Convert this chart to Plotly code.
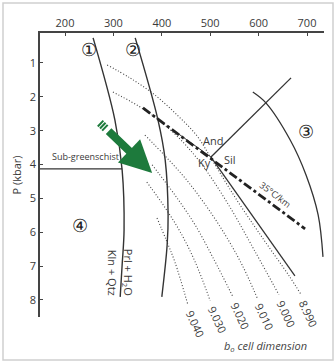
import math
import plotly.graph_objects as go

# ---------------- data ----------------
T_RANGE = [148.3, 735.1]          # temperature axis (°C), top
P_RANGE = [8.505, 0.115]          # pressure axis (kbar), reversed

x_ticks = [200, 300, 400, 500, 600, 700]
y_ticks = [1, 2, 3, 4, 5, 6, 7, 8]

# reaction curve 1 : Kln + Qtz = Prl + H2O
rxn1_T = [258, 303, 318, 322, 318, 314]
rxn1_P = [0.26, 2.68, 4.16, 5.93, 6.97, 7.91]
# reaction curve 2
rxn2_T = [345, 392, 407, 413, 411, 400]
rxn2_P = [0.26, 2.68, 3.87, 5.49, 6.38, 7.91]
# curve 3
rxn3_T = [588, 615, 665, 698, 723, 733]
rxn3_P = [1.86, 2.18, 3.27, 4.31, 5.49, 6.73]

# Al2SiO5 triple point and boundaries
triple_T, triple_P = 501.6, 3.78
and_sil_T = [667, triple_T]
and_sil_P = [1.44, triple_P]
ky_sil_T = [triple_T, 675]
ky_sil_P = [triple_P, 7.29]
ky_and_T = [430, triple_T]
ky_and_P = [3.05, triple_P]

# 35 °C/km geotherm
geo_T = [361, 696]
geo_P = [2.33, 5.90]

# sub-greenschist boundary
sub_T = [148.3, 318]
sub_P = [4.13, 4.13]

# b0 cell dimension isopleths
iso_labels = ["8.990", "9.000", "9.010", "9.020", "9.030", "9.040"]
iso_T = [
    [287, 334, 386, 434, 473, 504, 555, 611, 663, 688],
    [299, 365, 427, 479, 537, 593, 642],
    [365, 407, 448, 489, 531, 566, 597],
    [380, 427, 469, 506, 547],
    [369, 407, 438, 469, 500],
    [390, 409, 427, 454],
]
iso_P = [
    [1.06, 1.44, 1.95, 2.57, 3.16, 3.87, 5.05, 6.23, 7.29, 7.85],
    [1.86, 2.39, 3.10, 3.93, 5.17, 6.58, 7.85],
    [3.13, 3.75, 4.40, 5.17, 6.08, 6.97, 7.94],
    [4.01, 4.90, 5.79, 6.76, 7.91],
    [4.52, 5.28, 5.99, 6.88, 8.03],
    [5.58, 6.23, 6.88, 8.15],
]

# region numbers
region_T = [249.6, 340.5, 697.9, 231]
region_P = [0.59, 0.59, 3.01, 5.79]
region_labels = ["①", "②", "③", "④"]

# green arrow (tail -> tip)
arrow_T = [272, 380]
arrow_P = [2.77, 4.25]

# ---------------- figure ----------------
W, H = 336, 363
ML, MR, MT, MB = 40, 12, 33, 46
PW, PH = W - ML - MR, H - MT - MB

FONT = "Open Sans"
DARK = "#3a3a3a"
LINE = "#333333"
GREEN = "#1d7a3c"

fig = go.Figure()

def add_line(t, p, width=1.3, color=LINE, dash="solid", shape="spline"):
    fig.add_trace(go.Scatter(x=t, y=p, mode="lines",
                             line=dict(color=color, width=width, dash=dash, shape=shape,
                                       smoothing=1.0),
                             hoverinfo="skip", showlegend=False))

# isopleths first (underneath)
for t, p in zip(iso_T, iso_P):
    add_line(t, p, width=1.1, color="#444444", dash="1px,2px")

add_line(rxn1_T, rxn1_P, width=1.4)
add_line(rxn2_T, rxn2_P, width=1.4)
add_line(rxn3_T, rxn3_P, width=1.3)
add_line(and_sil_T, and_sil_P, width=1.3, shape="linear")
add_line(ky_sil_T, ky_sil_P, width=1.3, shape="linear")
add_line(ky_and_T, ky_and_P, width=1.0, shape="linear")
add_line(sub_T, sub_P, width=1.3, shape="linear")
add_line(geo_T, geo_P, width=2.8, color="#222222", dash="9px,3px,3px,3px", shape="linear")

annotations = []

def txt(x, y, s, size=11, color=DARK, angle=0, italic=False, family=FONT, **kw):
    if italic:
        s = "<i>" + s + "</i>"
    annotations.append(dict(x=x, y=y, xref="x", yref="y", text=s, showarrow=False,
                            xanchor="center", yanchor="middle",
                            font=dict(family=family, size=size, color=color),
                            textangle=angle, **kw))

# isopleth labels at curve ends
for lab, t, p in zip(iso_labels, iso_T, iso_P):
    txt(t[-1], p[-1], lab, size=11, angle=65, xshift=7, yshift=-19)

annotations.append(dict(x=(265 - ML) / PW, y=(H - MB - 346) / PH, xref="paper", yref="paper",
                        xanchor="center", yanchor="middle",
                        text="<i>b<sub>o</sub> cell dimension</i>", showarrow=False,
                        font=dict(family=FONT, size=11, color="#444444")))

# circled region numbers
for x, y, s in zip(region_T, region_P, region_labels):
    txt(x, y, s, size=18, color="#222222")

txt(505.8, 3.28, "And", size=11)
txt(487.2, 3.95, "Ky", size=11)
txt(540.9, 3.84, "Sil", size=11)
txt(241.3, 3.75, "Sub-greenschist", size=9)
txt(634.4, 4.90, "35°C/km", size=9, angle=37)
txt(297.1, 7.20, "Kln + Qtz", size=11, angle=90)
txt(330.2, 7.17, "Prl + H<sub>2</sub>O", size=11, angle=90)

# green arrow: body starts a little after the hatched tail
sx = (T_RANGE[1] - T_RANGE[0]) / PW            # °C per pixel
sy = (P_RANGE[0] - P_RANGE[1]) / PH            # kbar per pixel
dxp = (arrow_T[1] - arrow_T[0]) / sx
dyp = (arrow_P[1] - arrow_P[0]) / sy
L = math.hypot(dxp, dyp)
ux, uy = dxp / L, dyp / L
nx, ny = -uy, ux

def along(d, n=0.0):
    return (arrow_T[0] + (ux * d + nx * n) * sx, arrow_P[0] + (uy * d + ny * n) * sy)

body_T, body_P = along(10)
annotations.append(dict(x=arrow_T[1], y=arrow_P[1], ax=body_T, ay=body_P,
                        xref="x", yref="y", axref="x", ayref="y", text="",
                        showarrow=True, arrowhead=2, arrowsize=0.8, arrowwidth=8,
                        arrowcolor=GREEN, standoff=0))

shapes = []
for d in [1.0, 4.0, 7.0]:
    x0, y0 = along(d, -4)
    x1, y1 = along(d, 4)
    shapes.append(dict(type="line", xref="x", yref="y", x0=x0, y0=y0, x1=x1, y1=y1,
                       line=dict(color=GREEN, width=2), layer="above"))

# light outer frame
shapes.append(dict(type="rect", xref="paper", yref="paper",
                   x0=(3 - ML) / PW, x1=(333 - ML) / PW,
                   y0=(H - MB - 360) / PH, y1=(H - MB - 3) / PH,
                   line=dict(color="#cfcfcf", width=1.5), layer="below"))

fig.update_layout(
    width=W, height=H,
    margin=dict(l=ML, r=MR, t=MT, b=MB),
    paper_bgcolor="white", plot_bgcolor="white",
    font=dict(family=FONT, color=DARK, size=11),
    annotations=annotations, shapes=shapes,
    xaxis=dict(side="top", range=T_RANGE, tickvals=x_ticks, showgrid=False, zeroline=False,
               showline=True, linecolor="#444444", linewidth=1.5,
               ticks="inside", ticklen=3, tickcolor="#444444",
               tickfont=dict(family=FONT, size=11, color=DARK)),
    yaxis=dict(range=P_RANGE, tickvals=y_ticks, showgrid=False, zeroline=False,
               showline=True, linecolor="#444444", linewidth=1.5,
               ticks="inside", ticklen=3, tickcolor="#444444",
               tickfont=dict(family=FONT, size=11, color=DARK),
               title=dict(text="P (kbar)", font=dict(family=FONT, size=11, color=DARK),
                          standoff=6)),
)

fig.write_html("out.html")
